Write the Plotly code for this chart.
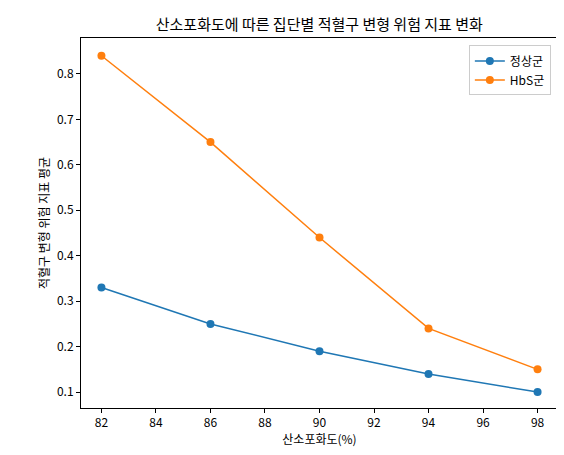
import plotly.graph_objects as go

x = [82, 86, 90, 94, 98]
normal = [0.33, 0.25, 0.19, 0.14, 0.10]
hbs = [0.84, 0.65, 0.44, 0.24, 0.15]

fig = go.Figure()
fig.add_trace(go.Scatter(x=x, y=normal, mode="lines+markers", name="정상군",
                         line=dict(color="#1f77b4", width=1.5), marker=dict(size=8)))
fig.add_trace(go.Scatter(x=x, y=hbs, mode="lines+markers", name="HbS군",
                         line=dict(color="#ff7f0e", width=1.5), marker=dict(size=8)))
ax = dict(showgrid=False, zeroline=False, showline=True, mirror=True, linecolor="black",
          ticks="outside", ticklen=4, tickcolor="black", automargin=False)
fig.update_layout(
    width=564, height=455, plot_bgcolor="white", paper_bgcolor="white",
    font=dict(family="Noto Sans CJK KR", size=12, color="black"),
    margin=dict(l=73, r=14, t=30, b=55, autoexpand=False),
    title=dict(text="산소포화도에 따른 집단별 적혈구 변형 위험 지표 변화", x=0.552, xanchor="center",
               y=0.963, yanchor="middle", font=dict(size=15), automargin=False),
    xaxis=dict(ax, range=[81.25, 98.75], tickvals=list(range(82, 99, 2)),
               title=dict(text="산소포화도(%)", standoff=4, font=dict(size=12))),
    yaxis=dict(ax, range=[0.065, 0.879], tickvals=[0.1,0.2,0.3,0.4,0.5,0.6,0.7,0.8], tickformat=".1f",
               title=dict(text="적혈구 변형 위험 지표 평균", standoff=4, font=dict(size=12))),
    legend=dict(x=0.985, y=0.98, xanchor="right", yanchor="top", bordercolor="#ccc", borderwidth=1, bgcolor="white"),
    showlegend=True,
)
fig.write_html("out.html")
